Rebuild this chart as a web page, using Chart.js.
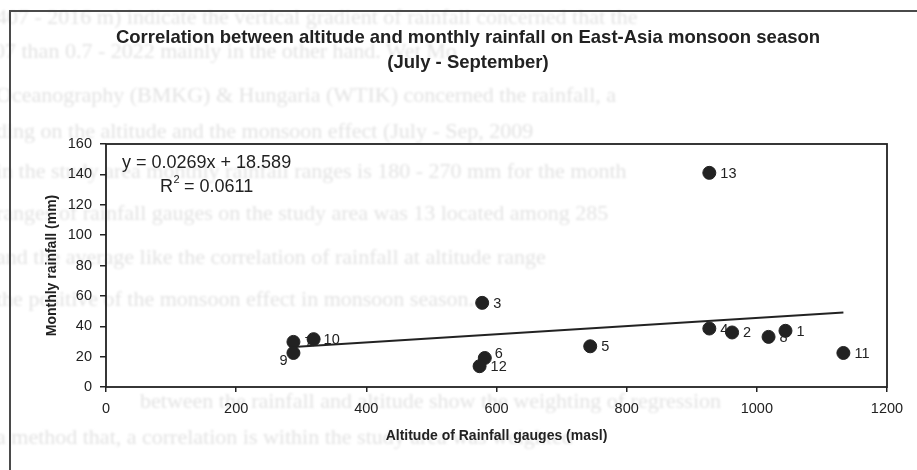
<!DOCTYPE html>
<html>
<head>
<meta charset="utf-8">
<script src="https://cdn.jsdelivr.net/npm/chart.js@4.4.1/dist/chart.umd.min.js"></script>
<style>
  html, body { margin: 0; padding: 0; background: #fff; }
  #wrap { position: relative; width: 917px; height: 470px; overflow: hidden; }
  #ghost { position: absolute; left: 0; top: 0; width: 917px; height: 470px;
           font-family: 'Liberation Serif', serif; font-size: 22px; color: #e3e3e3; filter: blur(0.8px); }
  #ghost div { position: absolute; white-space: nowrap; }
  canvas { position: absolute; left: 0; top: 0; }
</style>
</head>
<body>
<div id="wrap">
  <div id="ghost"></div>
  <canvas id="scatterChart" width="917" height="470"></canvas>
</div>
<script>
// gauge numbers, altitude (masl) and mean monthly rainfall (mm), Jul - Sep
const gaugeIds = ['1', '2', '3', '4', '5', '6', '7', '8', '9', '10', '11', '12', '13'];
const altitude = [1044, 962, 578, 927, 744, 582, 288, 1018, 288, 319, 1133, 574, 927];
const rainfall = [37.0, 35.9, 55.4, 38.5, 26.8, 19.1, 29.7, 33.0, 22.4, 31.5, 22.4, 13.7, 141.0];

// linear trend reported on the chart
const trendSlope = 0.0269;
const trendIntercept = 18.589;
const trendText = ['y = 0.0269x + 18.589', 'R', '2', ' = 0.0611'];

const titleLines = ['Correlation between altitude and monthly rainfall on East-Asia monsoon season', '(July - September)'];
const xTitle = 'Altitude of Rainfall gauges (masl)';
const yTitle = 'Monthly rainfall (mm)';

// text of the page printed on the reverse side, showing through the paper
const ghostLines = [
    [-4, 4, '407 - 2016 m) indicate the vertical gradient of rainfall concerned that the'],
    [-6, 38, '07 than 0.7 - 2022 mainly in the other hand. Wet Mo'],
    [-4, 82, 'Oceanography (BMKG) & Hungaria (WTIK) concerned the rainfall, a'],
    [-4, 118, 'ding on the altitude and the monsoon effect (July - Sep, 2009'],
    [-4, 158, 'in the study area monthly rainfall ranges is 180 - 270 mm for the month'],
    [-4, 200, 'ranges of rainfall gauges on the study area was 13 located among 285'],
    [-4, 244, 'and the average like the correlation of rainfall at altitude range'],
    [-4, 286, 'the positive of the monsoon effect in monsoon season.'],
    [140, 388, 'between the rainfall and altitude show the weighting of regression'],
    [-4, 424, 'a method that, a correlation is within the study area was weighted']
];

const ghost = document.getElementById('ghost');
ghostLines.forEach(([x, y, t]) => {
    const d = document.createElement('div');
    d.style.left = x + 'px';
    d.style.top = y + 'px';
    d.textContent = t;
    ghost.appendChild(d);
});

const points = altitude.map((x, i) => ({ x: x, y: rainfall[i] }));
const xMin = Math.min(...altitude);
const xMax = Math.max(...altitude);
const trendPoints = [
    { x: xMin, y: trendSlope * xMin + trendIntercept },
    { x: xMax, y: trendSlope * xMax + trendIntercept },
];

const ink = '#222';
const sans = "'Liberation Sans', Arial, sans-serif";

// outer frame, title, plot box and the trend equation
const framePlugin = {
    id: 'frame',
    beforeDraw(chart) {
        const ctx = chart.ctx;
        ctx.save();
        ctx.strokeStyle = '#4a4a4a';
        ctx.lineWidth = 2;
        ctx.beginPath();
        ctx.moveTo(10, 470);
        ctx.lineTo(10, 11);
        ctx.lineTo(917, 11);
        ctx.stroke();

        ctx.fillStyle = ink;
        ctx.font = 'bold 18.5px ' + sans;
        ctx.textAlign = 'center';
        ctx.textBaseline = 'middle';
        ctx.fillText(titleLines[0], 468, 38);
        ctx.fillText(titleLines[1], 468, 63);
        ctx.restore();
    },
    afterDraw(chart) {
        const a = chart.chartArea;
        const ctx = chart.ctx;
        ctx.save();
        ctx.strokeStyle = ink;
        ctx.lineWidth = 1.8;
        ctx.strokeRect(a.left, a.top, a.right - a.left, a.bottom - a.top);

        ctx.fillStyle = ink;
        ctx.font = '18px ' + sans;
        ctx.textBaseline = 'middle';
        ctx.fillText(trendText[0], a.left + 16, 163);
        const rx = a.left + 54;
        ctx.fillText(trendText[1], rx, 187);
        const rw = ctx.measureText(trendText[1]).width;
        ctx.font = '11px ' + sans;
        ctx.fillText(trendText[2], rx + rw + 0.5, 180);
        ctx.font = '18px ' + sans;
        ctx.fillText(trendText[3], rx + rw + 6, 187);
        ctx.restore();
    },
};

// gauge numbers next to the points, drawn under the markers
const gaugeLabels = {
    id: 'gaugeLabels',
    beforeDatasetsDraw(chart, args, opts) {
        const meta = chart.getDatasetMeta(0);
        const ctx = chart.ctx;
        ctx.save();
        ctx.fillStyle = ink;
        ctx.font = '14.5px ' + sans;
        ctx.textBaseline = 'middle';
        meta.data.forEach((el, i) => {
            const id = gaugeIds[i];
            const o = opts.offsets[id] || {};
            ctx.textAlign = o.align || 'left';
            ctx.fillText(id, el.x + (o.dx ?? 11), el.y + (o.dy ?? 1));
        });
        ctx.restore();
    },
};

const sc = document.getElementById('scatterChart');

if (sc) {
    new Chart(sc, {
        type: 'scatter',
        data: {
            datasets: [
                {
                    label: 'Gauges',
                    data: points,
                    backgroundColor: ink,
                    borderColor: ink,
                    pointRadius: 6.5,
                    pointHoverRadius: 6.5,
                    order: 1,
                },
                {
                    label: 'Linear trend',
                    type: 'line',
                    data: trendPoints,
                    borderColor: ink,
                    borderWidth: 2,
                    pointRadius: 0,
                    fill: false,
                    order: 2,
                },
            ],
        },
        options: {
            responsive: false,
            animation: false,
            events: [],
            layout: { padding: { top: 144, right: 30, bottom: 0, left: 0 } },
            plugins: {
                legend: { display: false },
                tooltip: { enabled: false },
                title: { display: false },
                gaugeLabels: {
                    offsets: {
                        '6': { dx: 10, dy: -4 },
                        '9': { dx: -6, dy: 8, align: 'right' },
                        '10': { dx: 10, dy: 1 },
                    },
                },
            },
            scales: {
                x: {
                    type: 'linear',
                    min: 0,
                    max: 1200,
                    ticks: { stepSize: 200, color: ink, font: { family: sans, size: 14.5 }, padding: 8,
                             callback: (v) => String(v) },
                    grid: { display: true, drawOnChartArea: false, drawTicks: true, tickLength: 5, color: ink, lineWidth: 1.5 },
                    border: { display: false },
                    title: { display: true, text: xTitle, color: ink, font: { family: sans, size: 14, weight: 'bold' },
                             padding: { top: 0, bottom: 25 } },
                    afterFit(scale) { scale.height = 83; },
                },
                y: {
                    min: 0,
                    max: 160,
                    ticks: { stepSize: 20, color: ink, font: { family: sans, size: 14.5 }, padding: 8,
                             callback: (v) => String(v) },
                    grid: { display: true, drawOnChartArea: false, drawTicks: true, tickLength: 6, color: ink, lineWidth: 1.5 },
                    border: { display: false },
                    title: { display: true, text: yTitle, color: ink, font: { family: sans, size: 14, weight: 'bold' },
                             padding: { top: 44, bottom: 0 } },
                    afterFit(scale) { scale.width = 106; },
                },
            },
        },
        plugins: [framePlugin, gaugeLabels],
    });
}
</script>
</body>
</html>
